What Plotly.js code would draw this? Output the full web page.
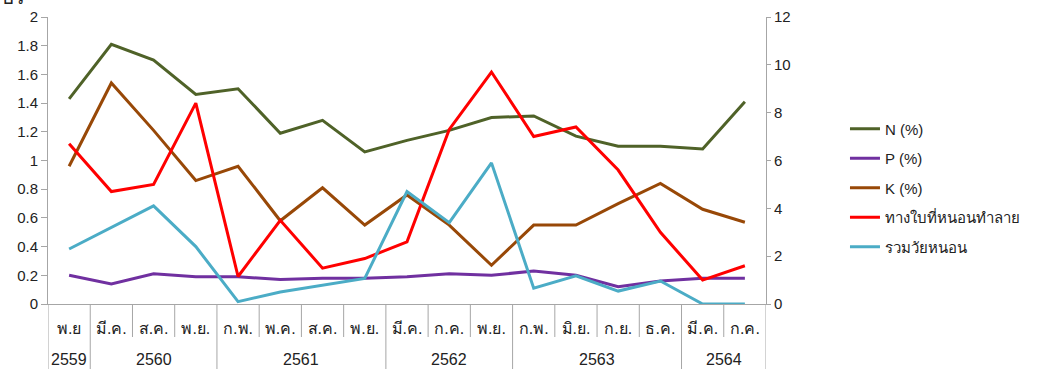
<!DOCTYPE html>
<html>
<head>
<meta charset="utf-8">
<script src="https://cdn.plot.ly/plotly-3.0.1.min.js"></script>
<style>
  html, body { margin: 0; padding: 0; background: #fff; }
  #chart { width: 1037px; height: 369px; }
</style>
</head>
<body>
<div id="chart"></div>
<script>
// Sampling rounds (month, Buddhist-era year)
const months = ['พ.ย', 'มี.ค.', 'ส.ค.', 'พ.ย.', 'ก.พ.', 'พ.ค.', 'ส.ค.', 'พ.ย.', 'มี.ค.', 'ก.ค.', 'พ.ย.', 'ก.พ.', 'มิ.ย.', 'ก.ย.', 'ธ.ค.', 'มี.ค.', 'ก.ค.'];
const years  = ['2559', '2560', '2560', '2560', '2561', '2561', '2561', '2561', '2562', '2562', '2562', '2563', '2563', '2563', '2563', '2564', '2564'];

// Leaf nutrients (left axis, %)
const nPct = [1.43, 1.81, 1.70, 1.46, 1.50, 1.19, 1.28, 1.06, 1.14, 1.21, 1.30, 1.31, 1.17, 1.10, 1.10, 1.08, 1.41];
const pPct = [0.20, 0.14, 0.21, 0.19, 0.19, 0.17, 0.18, 0.18, 0.19, 0.21, 0.20, 0.23, 0.20, 0.12, 0.16, 0.18, 0.18];
const kPct = [0.96, 1.54, 1.21, 0.86, 0.96, 0.58, 0.81, 0.55, 0.76, 0.55, 0.27, 0.55, 0.55, 0.70, 0.84, 0.66, 0.57];

// Pest counts (right axis)
const damagedFronds = [6.7, 4.7, 5.0, 8.4, 1.15, 3.5, 1.5, 1.9, 2.6, 7.3, 9.7, 7.0, 7.4, 5.6, 3.0, 1.0, 1.6];
const larvaeTotal   = [2.3, 3.2, 4.1, 2.4, 0.1, 0.5, 0.8, 1.07, 4.7, 3.4, 5.9, 0.66, 1.18, 0.54, 0.96, 0, 0];

const xIdx = months.map((_, i) => i);
const FONT = '"Liberation Sans", Tahoma, "Noto Sans", sans-serif';
const AXIS_GREY = '#a6a6a6';
const TEXT = '#222';

const traces = [
  { name: 'N (%)', y: nPct, color: '#4f6228', axis: 'y' },
  { name: 'P (%)', y: pPct, color: '#7030a0', axis: 'y' },
  { name: 'K (%)', y: kPct, color: '#984807', axis: 'y' },
  { name: 'ทางใบที่หนอนทำลาย', y: damagedFronds, color: '#ff0000', axis: 'y2' },
  { name: 'รวมวัยหนอน', y: larvaeTotal, color: '#4bacc6', axis: 'y2' }
].map((s, k) => ({
  type: 'scatter', mode: 'lines', x: xIdx, y: s.y, name: s.name, yaxis: s.axis,
  legendgroup: 'g' + k,
  line: { color: s.color, width: 3 }, hoverinfo: 'skip'
}));

// Year groups: first/last index of each run of equal years
const groups = [];
years.forEach((yr, i) => {
  const g = groups[groups.length - 1];
  if (g && g.year === yr) g.end = i; else groups.push({ year: yr, start: i, end: i });
});

const MONTH_ROW = -0.115;   // bottom of month-label row (paper units)
const YEAR_ROW = -0.23;     // bottom of year row

const shapes = [];
// short dividers between month labels, full-height ones between years
for (let i = 1; i < months.length; i++) {
  const isGroupEdge = years[i] !== years[i - 1];
  shapes.push({
    type: 'line', xref: 'x', yref: 'paper', x0: i - 0.5, x1: i - 0.5,
    y0: 0, y1: isGroupEdge ? YEAR_ROW : MONTH_ROW,
    line: { color: AXIS_GREY, width: 1 }
  });
}
// outer edges of the category table
[-0.5, months.length - 0.5].forEach(xv => shapes.push({
  type: 'line', xref: 'x', yref: 'paper', x0: xv, x1: xv, y0: 0, y1: YEAR_ROW,
  line: { color: AXIS_GREY, width: 1 }
}));

const annotations = groups.map(g => ({
  xref: 'x', yref: 'paper', x: (g.start + g.end) / 2, y: -0.195,
  text: g.year, showarrow: false, yanchor: 'middle',
  font: { family: FONT, size: 16, color: TEXT }
}));

const layout = {
  width: 1037, height: 369,
  margin: { l: 48, r: 268, t: 17, b: 65 },
  paper_bgcolor: '#fff', plot_bgcolor: '#fff',
  showlegend: true,
  legend: {
    x: 1.110, xanchor: 'left', y: 0.667, yanchor: 'top',
    font: { family: FONT, size: 15, color: TEXT },
    tracegroupgap: 7, itemwidth: 30
  },
  xaxis: {
    range: [-0.5, months.length - 0.5],
    tickmode: 'array', tickvals: xIdx, ticktext: months,
    ticks: '', showgrid: false, zeroline: false,
    showline: true, linecolor: AXIS_GREY, linewidth: 1,
    ticklabelstandoff: 10,
    tickfont: { family: FONT, size: 16, color: TEXT }
  },
  yaxis: {
    range: [0, 2], dtick: 0.2,
    showgrid: false, zeroline: false,
    showline: true, linecolor: AXIS_GREY, linewidth: 1,
    ticks: 'outside', ticklen: 6, tickcolor: AXIS_GREY,
    tickfont: { family: FONT, size: 15, color: TEXT }
  },
  yaxis2: {
    range: [0, 12], dtick: 2, overlaying: 'y', side: 'right',
    showgrid: false, zeroline: false,
    showline: true, linecolor: AXIS_GREY, linewidth: 1,
    ticks: 'outside', ticklen: 4, tickcolor: AXIS_GREY,
    tickfont: { family: FONT, size: 15, color: TEXT }
  },
  shapes: shapes,
  annotations: annotations.concat([{
    xref: 'paper', yref: 'paper', x: -0.068, y: 1.0, xanchor: 'left', yanchor: 'bottom',
    text: 'ปร', showarrow: false, yshift: 7,
    font: { family: FONT, size: 20, color: TEXT }
  }])
};

Plotly.newPlot('chart', traces, layout, { displayModeBar: false, staticPlot: true });
</script>
</body>
</html>
